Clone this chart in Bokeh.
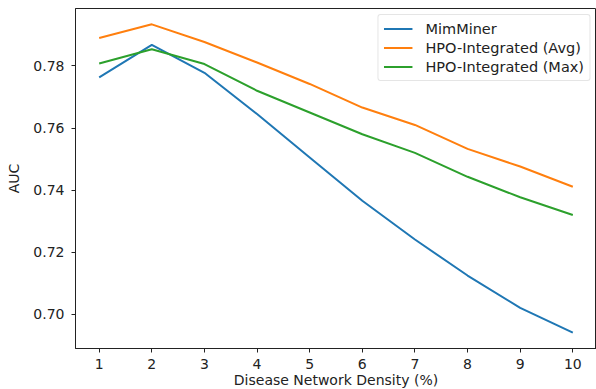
from bokeh.plotting import figure
from bokeh.models import Range1d, Legend, LegendItem, FixedTicker, CustomJSTickFormatter
from bokeh.embed import file_html
from bokeh.resources import INLINE

density = [1, 2, 3, 4, 5, 6, 7, 8, 9, 10]
mimminer = [0.7763, 0.7868, 0.7778, 0.7645, 0.7505, 0.7366, 0.7241, 0.7125, 0.7021, 0.6941]
hpo_avg = [0.7890, 0.7934, 0.7877, 0.7811, 0.7742, 0.7666, 0.7610, 0.7533, 0.7476, 0.7411]
hpo_max = [0.7808, 0.7854, 0.7806, 0.7720, 0.7650, 0.7580, 0.7520, 0.7443, 0.7377, 0.7320]
y_ticks = [0.70, 0.72, 0.74, 0.76, 0.78]
series_names = ["MimMiner", "HPO-Integrated (Avg)", "HPO-Integrated (Max)"]
colors = ["#1f77b4", "#ff7f0e", "#2ca02c"]

FONT = "DejaVu Sans"
FS = "14px"

p = figure(frame_width=521, frame_height=340,
           min_border_left=75, min_border_right=0, min_border_top=8, min_border_bottom=0,
           x_range=Range1d(0.55, 10.45), y_range=Range1d(0.689, 0.7985),
           output_backend="svg", toolbar_location=None)

renderers = []
for ys, c in zip([mimminer, hpo_avg, hpo_max], colors):
    r = p.line(density, ys, line_color=c, line_width=2)
    renderers.append(r)

p.xgrid.visible = False
p.ygrid.visible = False
p.outline_line_color = "#222222"
p.outline_line_width = 1
p.outline_line_alpha = 1

p.xaxis.ticker = FixedTicker(ticks=density)
p.yaxis.ticker = FixedTicker(ticks=y_ticks)
p.yaxis.formatter = CustomJSTickFormatter(code="return tick.toFixed(2);")

p.xaxis.axis_label = "Disease Network Density (%)"
p.yaxis.axis_label = "AUC"
for ax in [p.xaxis[0], p.yaxis[0]]:
    ax.axis_label_text_font = FONT
    ax.axis_label_text_font_size = FS
    ax.axis_label_text_font_style = "normal"
    ax.axis_label_text_color = "#222222"
    ax.major_label_text_font = FONT
    ax.major_label_text_font_size = FS
    ax.major_label_text_color = "#222222"
    ax.axis_line_color = "#222222"
    ax.major_tick_line_color = "#222222"
    ax.major_tick_out = 4
    ax.major_tick_in = 0
    ax.minor_tick_out = 0
    ax.minor_tick_in = 0
p.xaxis.major_label_standoff = 6
p.xaxis.axis_label_standoff = 0
p.yaxis.major_label_standoff = 7
p.yaxis.axis_label_standoff = 8

legend = Legend(items=[LegendItem(label=n, renderers=[r]) for n, r in zip(series_names, renderers)],
                location="top_right")
legend.margin = 6
legend.padding = 5
legend.spacing = 2
legend.label_height = 17
legend.glyph_height = 17
legend.glyph_width = 29
legend.label_standoff = 13
legend.label_text_font = FONT
legend.label_text_font_size = "14.5px"
legend.label_text_color = "#222222"
legend.border_line_color = "#cccccc"
legend.border_line_width = 1
legend.background_fill_alpha = 0.8
legend.border_radius = 3
p.add_layout(legend)

open("out.html", "w").write(file_html(p, INLINE))
